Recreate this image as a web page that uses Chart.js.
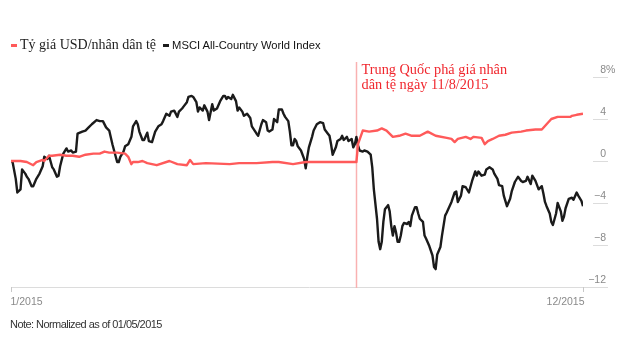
<!DOCTYPE html>
<html>
<head>
<meta charset="utf-8">
<script src="https://cdn.jsdelivr.net/npm/chart.js@4/dist/chart.umd.min.js"></script>
<style>
  body { margin: 0; background: #fff; }
  #wrap { position: relative; width: 640px; height: 347px; overflow: hidden; }
  #chart { position: absolute; left: 0; top: 0; }
  .legend { position: absolute; top: 35px; left: 11px; white-space: nowrap; }
  .legend span { display: inline-block; vertical-align: middle; }
  .swatch { width: 6px; height: 3px; margin-right: 3px; }
  .cny { font-family: "Liberation Serif", serif; font-size: 14px; color: #222; margin-right: 7px; }
  .msci { font-family: "Liberation Sans", sans-serif; font-size: 11.2px; color: #111; }
  .note { position: absolute; left: 10px; top: 318px; font-family: "Liberation Sans", sans-serif;
          font-size: 11px; color: #333; letter-spacing: -0.55px; }
</style>
</head>
<body>
<div id="wrap">
  <canvas id="chart" width="640" height="347"></canvas>
  <div class="legend" id="legend"></div>
  <div class="note">Note: Normalized as of 01/05/2015</div>
</div>
<script>
// series names and colours
var seriesNames = ['Tỷ giá USD/nhân dân tệ', 'MSCI All-Country World Index'];
var seriesColors = ['#ff5a5a', '#1b1b1b'];

// days since 01/05/2015, % change
var cnyDays = [0, 3, 6, 10, 14, 16, 20, 21, 24, 26, 31, 35, 39, 43, 47, 52, 56, 59, 62, 67, 72, 74, 76, 77, 80, 83, 86, 92, 100, 105, 111, 113, 115, 123, 138, 144, 155, 165, 169, 178, 186, 195, 207, 218,
  219, 222, 226, 231, 234, 237, 241, 245, 249, 253, 258, 263, 268, 275, 278, 280, 282, 287, 290, 292, 297, 299, 301, 304, 308, 312, 316, 322, 325, 331, 335, 338, 341, 345, 349, 353, 354, 357, 361];
var cnyValues = [0.0, 0.0, 0.0, -0.1, -0.4, -0.1, 0.1, 0.0, 0.5, 0.5, 0.6, 0.5, 0.5, 0.4, 0.6, 0.7, 0.7, 0.9, 0.8, 0.8, 0.7, 0.4, -0.3, -0.1, -0.1, 0.0, -0.2, -0.4, 0.0, -0.3, -0.4, 0.1, -0.3, -0.2, -0.3, -0.2, -0.2, -0.1, -0.1, -0.3, -0.1, -0.1, -0.1, -0.1,
  1.6, 2.9, 2.8, 2.9, 3.1, 2.9, 2.3, 2.4, 2.6, 2.4, 2.4, 2.8, 2.4, 2.2, 2.1, 1.8, 2.1, 2.3, 2.1, 2.3, 2.2, 1.6, 1.9, 2.1, 2.4, 2.5, 2.7, 2.8, 2.9, 3.0, 3.0, 3.5, 4.0, 4.2, 4.2, 4.2, 4.3, 4.4, 4.5];

var msciDays = [0, 1, 3, 4, 6, 7, 9, 10, 11, 13, 14, 16, 18, 20, 21, 23, 24, 26, 27, 29, 30, 31, 33, 35, 36, 38, 39, 41, 42, 45, 47, 49, 51, 54, 56, 58, 60, 62, 64, 67, 68, 69, 71, 72, 74, 76, 77, 79, 80, 81, 83, 84, 86, 87, 89, 90, 91, 93, 95, 96, 98, 100,
  101, 103, 105, 106, 108, 109, 111, 112, 114, 115, 117, 118, 119, 121, 122, 124, 125, 127, 128, 130, 132, 134, 135, 136, 137, 139, 140, 142, 143, 144, 146, 147, 149, 151, 152, 155, 156, 158, 159, 161, 162, 163, 165, 166, 168, 169, 171,
  172, 173, 175, 176, 177, 178, 179, 180, 181, 183, 185, 186, 187, 188, 190, 191, 193, 195, 197, 198, 200, 201, 202, 203, 205, 206, 208, 209, 210, 212, 213, 215, 216, 217, 218, 219, 220, 222, 223, 225, 227, 228, 229, 231, 232, 233, 234, 235,
  236, 238, 239, 240, 241, 242, 243, 244, 245, 246, 247, 248, 250, 251, 252, 253, 255, 256, 257, 258, 260, 261, 262, 264, 266, 267, 268, 269, 271, 272, 274, 275, 278, 280, 281, 282, 284, 285, 287, 289, 291, 293, 294, 295, 297, 299, 300,
  302, 304, 305, 307, 308, 310, 311, 313, 315, 316, 318, 320, 322, 323, 325, 326, 328, 329, 331, 333, 335, 336, 337, 338, 340, 341, 342, 344, 345, 347, 348, 349, 350, 352, 354, 355, 357, 358, 360, 361];
var msciValues = [0.0, -0.1, -1.7, -3.0, -2.7, -0.8, -1.2, -1.5, -1.7, -2.4, -2.4, -1.7, -1.2, -0.5, 0.4, 0.2, 0.5, -0.6, -0.8, -1.5, -1.4, -0.5, 0.7, 1.2, 0.9, 1.0, 0.8, 0.9, 2.6, 2.8, 2.9, 3.2, 3.5, 3.9, 3.8, 3.8, 3.2, 2.9, 1.6, -0.1, -0.1, 0.4, 0.9, 1.4, 1.6, 2.3, 3.3, 3.8, 3.5, 2.8, 2.0, 2.0, 2.7, 1.9, 1.8, 2.3, 2.8, 3.3, 3.5, 3.8, 4.5, 4.3,
  4.7, 4.8, 4.2, 4.7, 5.0, 5.2, 5.6, 6.1, 6.2, 6.1, 5.6, 4.7, 5.1, 4.8, 5.3, 4.7, 3.9, 5.4, 4.8, 5.0, 5.7, 6.2, 6.2, 5.9, 6.1, 5.9, 6.3, 5.7, 4.8, 5.1, 4.7, 4.3, 4.5, 4.1, 3.3, 2.6, 2.4, 3.5, 3.9, 3.7, 2.9, 2.8, 3.0, 4.0, 3.7, 4.9, 4.9,
  4.5, 4.2, 3.8, 2.8, 1.5, 1.5, 2.1, 1.9, 1.4, 1.0, 0.2, -0.7, 0.4, 1.3, 2.3, 2.9, 3.5, 3.7, 3.6, 3.0, 2.6, 2.4, 1.6, 0.6, 1.3, 1.9, 2.1, 2.4, 2.0, 2.3, 1.9, 2.1, 1.3, 1.6, 2.3, 1.5, 1.0, 0.9, 1.0, 0.9, 0.6, -0.6, -2.7, -5.5, -7.7, -8.4, -7.7, -5.8,
  -4.6, -4.2, -4.8, -6.2, -7.1, -6.2, -6.8, -7.7, -7.7, -7.1, -6.2, -5.9, -6.0, -5.8, -6.2, -5.2, -4.4, -4.4, -5.0, -5.5, -5.8, -7.1, -7.4, -8.1, -9.0, -10.1, -10.3, -8.9, -8.2, -7.1, -5.2, -4.9, -3.9, -3.0, -2.9, -3.9, -3.3, -2.4, -2.5, -3.0, -1.9, -1.0, -1.4, -1.0, -1.4, -1.3, -0.8,
  -0.6, -0.8, -1.2, -1.7, -2.3, -2.4, -3.3, -4.3, -3.6, -2.9, -2.0, -1.5, -1.9, -2.0, -1.9, -1.5, -2.2, -1.4, -1.9, -2.7, -2.4, -3.1, -3.9, -4.3, -5.0, -5.8, -6.1, -5.0, -4.0, -4.8, -5.7, -5.3, -4.5, -3.6, -3.5, -3.7, -3.0, -3.3, -3.8, -4.3];

// axis ticks
var xTickDays = [0, 361];
var xTickLabels = ['1/2015', '12/2015'];
var yTickValues = [8, 4, 0, -4, -8, -12];

// 11/8/2015 devaluation marker
var eventDay = 218;
var eventLines = ['Trung Quốc phá giá nhân', 'dân tệ ngày 11/8/2015'];

// build the legend
var legend = document.getElementById('legend');
var legendClasses = ['cny', 'msci'];
seriesNames.forEach(function(name, i) {
    var sw = document.createElement('span');
    sw.className = 'swatch';
    sw.style.background = seriesColors[i];
    var tx = document.createElement('span');
    tx.className = legendClasses[i];
    tx.textContent = name;
    legend.appendChild(sw);
    legend.appendChild(tx);
});

function toPoints(days, values) {
    return days.map(function(d, i) { return { x: d, y: values[i] }; });
}

// axes, ticks, labels and the event marker
var decorations = {
    id: 'decorations',
    beforeDatasetsDraw: function(chart) {
        var ctx = chart.ctx;
        var xs = chart.scales.x, ys = chart.scales.y;
        var axisY = ys.getPixelForValue(-12);
        var right = 608;

        ctx.save();
        // bottom axis line
        ctx.strokeStyle = '#dcdcdc';
        ctx.lineWidth = 1;
        ctx.beginPath();
        ctx.moveTo(xs.getPixelForValue(0), axisY + 0.5);
        ctx.lineTo(right, axisY + 0.5);
        ctx.stroke();

        // x ticks
        ctx.strokeStyle = '#c8c8c8';
        ctx.fillStyle = '#8a8a8a';
        ctx.font = '10.5px "Liberation Sans", sans-serif';
        ctx.textBaseline = 'alphabetic';
        xTickDays.forEach(function(d, i) {
            var px = Math.round(xs.getPixelForValue(d)) + 0.5;
            ctx.beginPath();
            ctx.moveTo(px, axisY);
            ctx.lineTo(px, axisY + 5);
            ctx.stroke();
            ctx.textAlign = i === 0 ? 'left' : 'right';
            ctx.fillText(xTickLabels[i], px + (i === 0 ? -1 : 1), axisY + 18);
        });

        // y ticks on the right
        yTickValues.forEach(function(v) {
            var py = Math.round(ys.getPixelForValue(v)) + 0.5;
            if (v !== -12) {
                ctx.strokeStyle = '#dcdcdc';
                ctx.beginPath();
                ctx.moveTo(593, py);
                ctx.lineTo(right, py);
                ctx.stroke();
            }
            var txt = v < 0 ? '\u2212' + Math.abs(v) : String(v);
            ctx.textAlign = 'right';
            ctx.fillText(txt, 606, py - 5);
            if (v === 8) {
                ctx.textAlign = 'left';
                ctx.fillText('%', 606, py - 5);
            }
        });

        // event marker
        var ex = Math.round(xs.getPixelForValue(eventDay)) + 0.5;
        ctx.strokeStyle = '#f9b1b1';
        ctx.lineWidth = 1.5;
        ctx.beginPath();
        ctx.moveTo(ex, 62);
        ctx.lineTo(ex, axisY + 1);
        ctx.stroke();

        ctx.fillStyle = '#f0262d';
        ctx.font = '14.3px "Liberation Serif", serif';
        ctx.textAlign = 'left';
        eventLines.forEach(function(line, i) {
            ctx.fillText(line, ex + 5, 74 + i * 15);
        });
        ctx.restore();
    }
};

new Chart(document.getElementById('chart'), {
    type: 'line',
    data: {
        datasets: [
            { label: seriesNames[0], data: toPoints(cnyDays, cnyValues), borderColor: seriesColors[0], borderWidth: 2.4 },
            { label: seriesNames[1], data: toPoints(msciDays, msciValues), borderColor: seriesColors[1], borderWidth: 2.4 }
        ]
    },
    options: {
        responsive: false,
        devicePixelRatio: 1,
        animation: false,
        layout: { padding: { left: 11, right: 57, top: 77, bottom: 60 } },
        elements: { point: { radius: 0 }, line: { tension: 0, borderJoinStyle: 'round' } },
        plugins: { legend: { display: false }, tooltip: { enabled: false } },
        scales: {
            x: { type: 'linear', min: 0, max: 361, display: false },
            y: { min: -12, max: 8, display: false }
        }
    },
    plugins: [decorations]
});
</script>
</body>
</html>
